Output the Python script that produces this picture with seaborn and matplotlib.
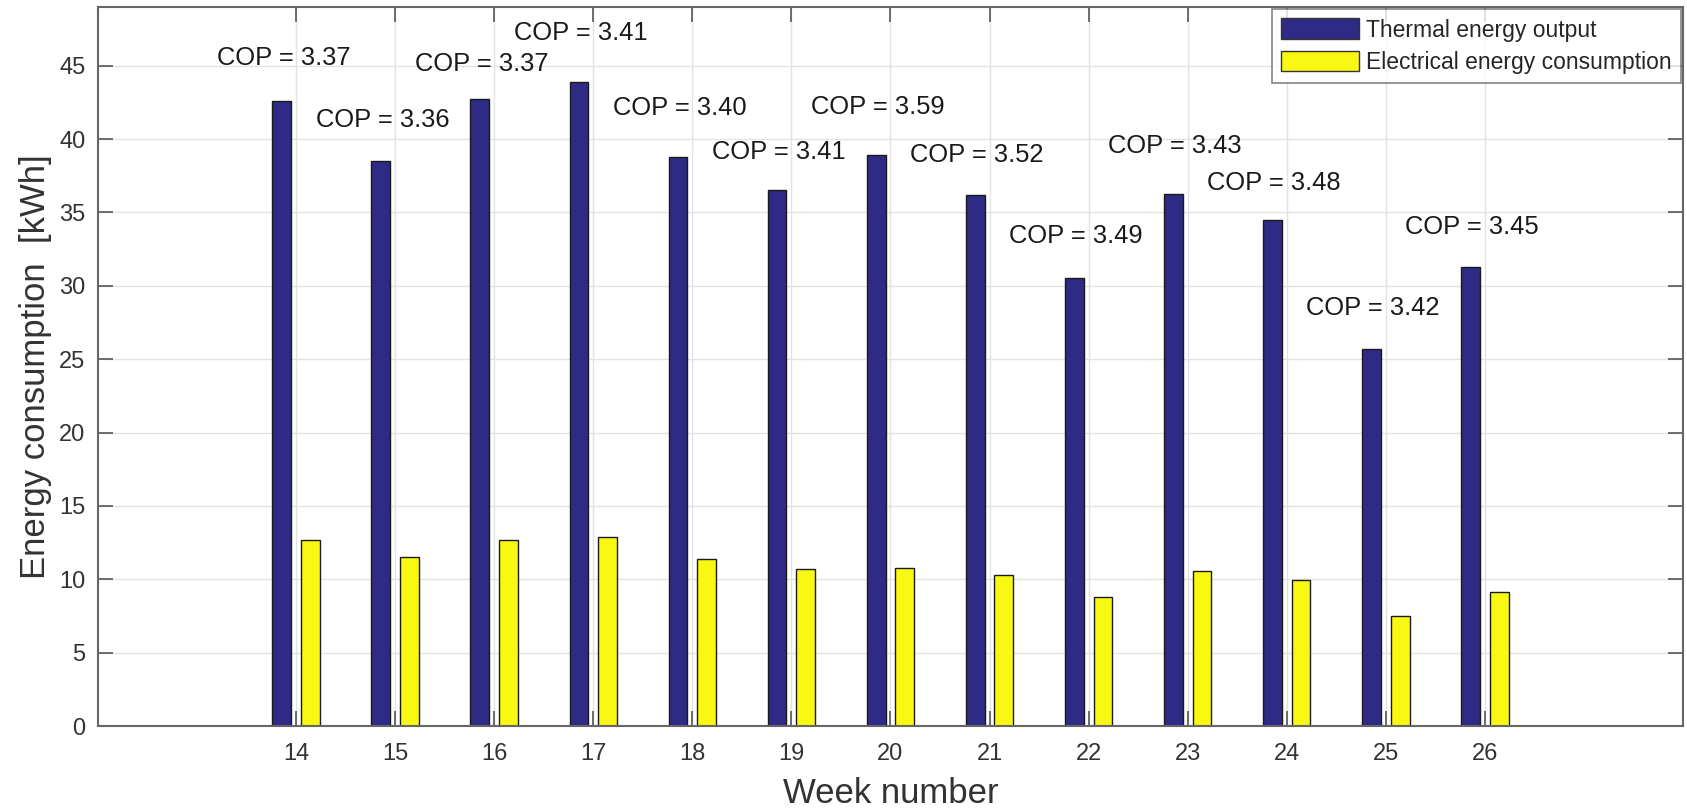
import pandas as pd
import matplotlib.pyplot as plt
import seaborn as sns
from matplotlib.patches import Patch

# Weekly energy data
weeks = [14, 15, 16, 17, 18, 19, 20, 21, 22, 23, 24, 25, 26]
thermal = [42.6, 38.5, 42.75, 43.9, 38.8, 36.5, 38.9, 36.2, 30.5, 36.25, 34.5, 25.7, 31.25]
electrical = [12.65, 11.5, 12.7, 12.88, 11.4, 10.7, 10.8, 10.3, 8.77, 10.55, 9.93, 7.5, 9.1]
cop = [3.37, 3.36, 3.37, 3.41, 3.40, 3.41, 3.59, 3.52, 3.49, 3.43, 3.48, 3.42, 3.45]
series_names = ['Thermal energy output', 'Electrical energy consumption']

# where each COP label sits (y in kWh)
label_y = [45.5, 41.3, 45.1, 47.2, 42.1, 39.15, 42.2, 38.9, 33.4, 39.5, 37.0, 28.5, 34.0]

df = pd.DataFrame({
    'week': weeks * 2,
    'energy': thermal + electrical,
    'series': [series_names[0]] * len(weeks) + [series_names[1]] * len(weeks),
})

colors = {series_names[0]: '#2f2a86', series_names[1]: '#f8f812'}

sns.set_style("white")
plt.rcParams['font.family'] = ['Liberation Sans', 'DejaVu Sans']

fig = plt.figure(figsize=(16.87, 8.10), dpi=100)
ax = fig.add_axes([0.0581, 0.1037, 0.9395, 0.8877])

sns.barplot(data=df, x='week', y='energy', hue='series', palette=colors,
            native_scale=True, width=0.58, gap=0.345, dodge=True, saturation=1,
            edgecolor='#1a1a1a', linewidth=1.0, legend=False, ax=ax)

for w, c, ly in zip(weeks, cop, label_y):
    ax.text(w - 0.13, ly, f'COP = {c:.2f}', ha='center', va='center',
            fontsize=18.4, color='#1a1a1a')

ax.set_xlim(12, 28)
ax.set_ylim(0, 49)
ax.set_xticks(weeks)
ax.set_yticks(range(0, 50, 5))
ax.grid(True, color='#e3e3e3', linewidth=1.0)
ax.set_axisbelow(True)
ax.tick_params(direction='in', length=11, width=1.2, color='#555555',
               labelsize=17, labelcolor='#333333', top=True, right=True,
               bottom=True, left=True)
ax.tick_params(axis='x', pad=12)
ax.tick_params(axis='y', pad=9)
for s in ax.spines.values():
    s.set_color('#666666')
    s.set_linewidth(1.5)

ax.set_xlabel('Week number', fontsize=25, color='#333333', labelpad=9)
ax.set_ylabel('Energy consumption  [kWh]', fontsize=25, color='#333333', labelpad=5)

handles = [Patch(facecolor=colors[n], edgecolor='#333333', label=n) for n in series_names]
leg = ax.legend(handles=handles, loc='upper right', fontsize=16.5, frameon=True,
                fancybox=False, edgecolor='#666666', borderaxespad=0.1,
                handlelength=3.4, handleheight=1.0, handletextpad=0.3,
                labelspacing=0.4, borderpad=0.4)
leg.get_frame().set_linewidth(1.2)

fig.savefig('out.png', dpi=100)
